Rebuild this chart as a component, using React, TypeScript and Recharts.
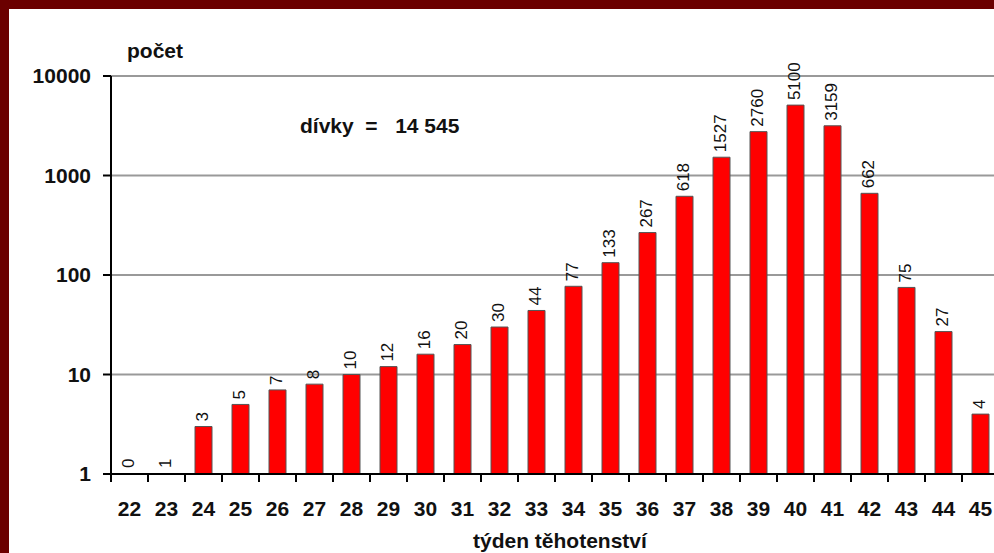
import { BarChart, Bar, XAxis, YAxis, CartesianGrid, LabelList, Cell } from "recharts"

const weeks = [22, 23, 24, 25, 26, 27, 28, 29, 30, 31, 32, 33, 34, 35, 36, 37, 38, 39, 40, 41, 42, 43, 44, 45]
const counts = [0, 1, 3, 5, 7, 8, 10, 12, 16, 20, 30, 44, 77, 133, 267, 618, 1527, 2760, 5100, 3159, 662, 75, 27, 4]
const yTicks = [1, 10, 100, 1000, 10000]

const FONT = "'Liberation Sans', Arial, sans-serif"

// log scale can't take 0, so plot it at the floor (1) but still label the raw count
const data = weeks.map((w, i) => ({
  week: w,
  count: counts[i],
  plot: Math.max(counts[i], 1),
}))

const XTick = ({ x, y, payload }: any) => {
  const half = 37 / 2
  return (
    <g>
      <line x1={x - half} x2={x - half} y1={y} y2={y + 8} stroke="#000" strokeWidth={2} />
      <text x={x} y={y + 42} textAnchor="middle" fontFamily={FONT} fontWeight="bold" fontSize={21} fill="#111">
        {payload.value}
      </text>
    </g>
  )
}

const BarLabel = ({ x, y, width, height, value }: any) => {
  const cx = x + width / 2 - 1
  const cy = (height > 0 ? y : y + height) - 5
  return (
    <text
      x={cx}
      y={cy}
      transform={`rotate(-90, ${cx}, ${cy})`}
      textAnchor="start"
      dominantBaseline="central"
      fontFamily={FONT}
      fontSize={17}
      fill="#111"
    >
      {value}
    </text>
  )
}

const textStyle: React.CSSProperties = {
  position: "absolute",
  fontFamily: FONT,
  fontWeight: "bold",
  fontSize: 21,
  color: "#111",
  whiteSpace: "pre",
  lineHeight: 1,
}

export default function App() {
  return (
    <div
      style={{
        position: "absolute",
        left: 0,
        top: 0,
        width: 994,
        height: 553,
        overflow: "hidden",
        background: "#6b0000",
      }}
    >
      <div style={{ position: "absolute", left: 9, top: 9, right: 0, bottom: 0, background: "#fff" }} />
      <div style={{ position: "absolute", left: 0, top: 0 }}>
        <BarChart width={1010} height={553} data={data} margin={{ top: 76, right: 11, left: 0, bottom: 0 }}>
          <CartesianGrid vertical={false} stroke="#999" strokeWidth={2} />
          <XAxis
            dataKey="week"
            height={79}
            interval={0}
            tickLine={false}
            tickSize={0}
            tickMargin={0}
            axisLine={{ stroke: "#000", strokeWidth: 2 }}
            tick={<XTick />}
          />
          <YAxis
            scale="log"
            type="number"
            domain={[1, 10000]}
            ticks={yTicks}
            allowDataOverflow
            width={111}
            tickSize={8}
            tickMargin={12}
            axisLine={{ stroke: "#000", strokeWidth: 2 }}
            tickLine={{ stroke: "#000", strokeWidth: 2 }}
            tick={{ fontFamily: FONT, fontWeight: "bold", fontSize: 21, fill: "#111" }}
          />
          <Bar
            dataKey="plot"
            barSize={17}
            fill="#ff0000"
            stroke="#555"
            strokeWidth={1}
            minPointSize={1}
            isAnimationActive={false}
          >
            {data.map((d, i) => (
              <Cell
                key={`c-${i}`}
                fill={d.count > 1 ? "#ff0000" : "none"}
                stroke={d.count > 1 ? "#555" : "none"}
              />
            ))}
            <LabelList dataKey="count" content={<BarLabel />} />
          </Bar>
        </BarChart>
      </div>
      <div style={{ ...textStyle, left: 127, top: 40 }}>počet</div>
      <div style={{ ...textStyle, left: 300, top: 115 }}>{"dívky  =   14 545"}</div>
      <div style={{ ...textStyle, left: 473, top: 530 }}>týden těhotenství</div>
    </div>
  )
}
